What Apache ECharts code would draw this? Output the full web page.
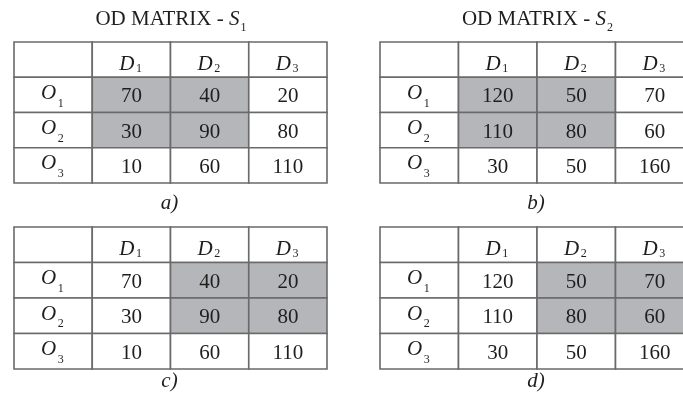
<!DOCTYPE html>
<html>
<head>
<meta charset="utf-8">
<script src="https://cdn.jsdelivr.net/npm/echarts@6/dist/echarts.min.js"></script>
<style>
  html, body { margin: 0; padding: 0; background: #fff; }
  #chart { width: 683px; height: 394px; }
</style>
</head>
<body>
<div id="chart"></div>
<script>
// table contents
const colLabels = ['D1', 'D2', 'D3'];
const rowLabels = ['O1', 'O2', 'O3'];
const matrixS1 = [[70, 40, 20], [30, 90, 80], [10, 60, 110]];
const matrixS2 = [[120, 50, 70], [110, 80, 60], [30, 50, 160]];
const panelTags = ['a)', 'b)', 'c)', 'd)'];
const panelTitles = ['S1', 'S2', null, null];
// which cells are shaded (column / row indexes inside the value block)
const shadedCols = [[0, 1], [0, 1], [1, 2], [1, 2]];
const shadedRows = [0, 1];

const FONT = '"Liberation Serif", "DejaVu Serif", serif';
const GRAY = '#b5b6b9';
const LINE = '#6a6a6a';
const INK = '#1e1e1e';

// panel boxes [left, top, width, height]
const boxes = [
  [14, 42, 313, 141],
  [380, 42, 314, 141],
  [14, 227, 313, 142],
  [380, 227, 314, 142]
];
const matrices = [matrixS1, matrixS2, matrixS1, matrixS2];

function subLabel (cx, cy, letter, sub, dy, subDy) {
  return [
    { type: 'text', style: { text: letter, x: cx + 3, y: cy + dy, align: 'right', verticalAlign: 'middle', fontFamily: FONT, fontSize: 21, fontStyle: 'italic', fill: INK } },
    { type: 'text', style: { text: sub, x: cx + 4.5, y: cy + dy + subDy, align: 'left', verticalAlign: 'middle', fontFamily: FONT, fontSize: 12, fill: INK } }
  ];
}

function buildCells (k) {
  const m = matrices[k];
  const cells = [];
  for (let r = 0; r < 4; r++) {
    for (let c = 0; c < 4; c++) {
      let kind = 'value';
      let text = '';
      let shaded = false;
      if (r === 0 && c === 0) kind = 'empty';
      else if (r === 0) { kind = 'col'; text = colLabels[c - 1]; }
      else if (c === 0) { kind = 'row'; text = rowLabels[r - 1]; }
      else {
        text = String(m[r - 1][c - 1]);
        shaded = shadedRows.includes(r - 1) && shadedCols[k].includes(c - 1);
      }
      cells.push({ value: [c, r], kind, text, shaded });
    }
  }
  return cells;
}

function makeRender (cells) {
  return function (params, api) {
    const cell = cells[params.dataIndex];
    const p = api.coord([api.value(0), api.value(1)]);
    const s = api.size([1, 1]);
    const children = [{
      type: 'rect',
      shape: { x: p[0] - s[0] / 2, y: p[1] - s[1] / 2, width: s[0], height: s[1] },
      style: { fill: cell.shaded ? GRAY : '#fff', stroke: LINE, lineWidth: 1.6 }
    }];
    if (cell.kind === 'value') {
      children.push({ type: 'text', style: { text: cell.text, x: p[0], y: p[1] + 2, align: 'center', verticalAlign: 'middle', fontFamily: FONT, fontSize: 21, fill: INK } });
    } else if (cell.kind === 'col') {
      children.push(...subLabel(p[0], p[1], cell.text[0], cell.text.slice(1), 5, 4));
    } else if (cell.kind === 'row') {
      children.push(...subLabel(p[0], p[1], cell.text[0], cell.text.slice(1), -1.5, 10));
    }
    return { type: 'group', children };
  };
}

const grids = [];
const xAxes = [];
const yAxes = [];
const series = [];
const graphics = [];

boxes.forEach((b, k) => {
  grids.push({ left: b[0], top: b[1], width: b[2], height: b[3], outerBoundsMode: 'none', containLabel: false });
  xAxes.push({ type: 'category', gridIndex: k, data: [''].concat(colLabels), show: false });
  yAxes.push({ type: 'category', gridIndex: k, data: [''].concat(rowLabels), inverse: true, show: false });
  const cells = buildCells(k);
  series.push({
    type: 'custom',
    xAxisIndex: k,
    yAxisIndex: k,
    clip: false,
    silent: true,
    data: cells.map(c => c.value),
    renderItem: makeRender(cells)
  });
  const cx = b[0] + b[2] / 2;
  // panel tag under the table
  graphics.push({
    type: 'text',
    style: { text: panelTags[k], x: cx - 1, y: b[1] + b[3] + (k < 2 ? 20 : 12), align: 'center', verticalAlign: 'middle', fontFamily: FONT, fontSize: 21, fontStyle: 'italic', fill: INK }
  });
  // title above the top tables
  if (panelTitles[k]) {
    graphics.push({
      type: 'text',
      style: {
        text: '{n|OD MATRIX - }{i|' + panelTitles[k][0] + '}',
        rich: {
          n: { fontFamily: FONT, fontSize: 21, fill: INK },
          i: { fontFamily: FONT, fontSize: 21, fontStyle: 'italic', fill: INK }
        },
        x: cx + 69, y: 19.5, align: 'right', verticalAlign: 'middle'
      }
    });
    graphics.push({
      type: 'text',
      style: { text: panelTitles[k].slice(1), x: cx + 70, y: 27.5, align: 'left', verticalAlign: 'middle', fontFamily: FONT, fontSize: 12, fill: INK }
    });
  }
});

const chart = echarts.init(document.getElementById('chart'), null, { renderer: 'canvas' });
chart.setOption({
  animation: false,
  backgroundColor: '#fff',
  grid: grids,
  xAxis: xAxes,
  yAxis: yAxes,
  series: series,
  graphic: graphics
});
</script>
</body>
</html>
